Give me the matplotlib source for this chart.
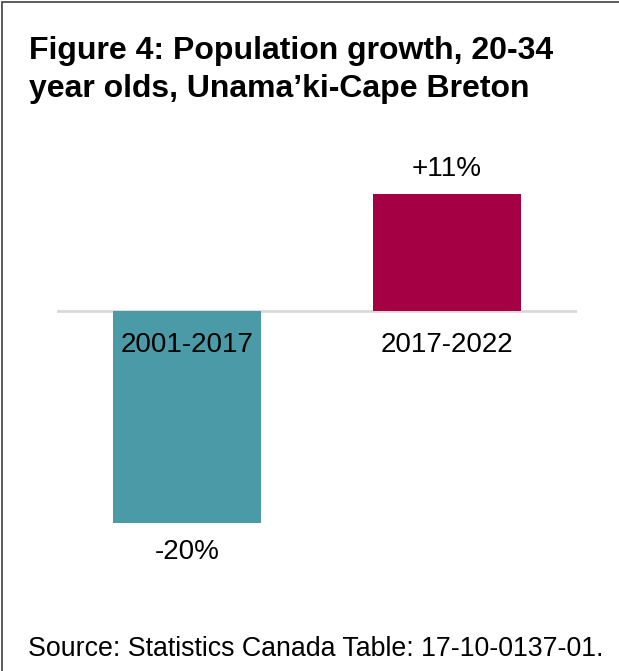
import matplotlib
matplotlib.use("Agg")
import matplotlib.pyplot as plt
from matplotlib.patches import Rectangle

categories = ["2001-2017", "2017-2022"]
values = [-20, 11]
value_labels = ["-20%", "+11%"]
colors = ["#4A9BA7", "#A50044"]

title_lines = ["Figure 4: Population growth, 20-34",
               "year olds, Unama\u2019ki-Cape Breton"]
source = "Source: Statistics Canada Table: 17-10-0137-01."

W, H = 619, 671
fig = plt.figure(figsize=(W / 100, H / 100), dpi=100)
plt.rcParams['font.family'] = ['Liberation Sans', 'DejaVu Sans']

def fx(px):
    return px / W

def fy(py):
    return 1 - py / H

# border (only left/top visible)
fig.patches.append(Rectangle((fx(2), fy(H + 20)), fx(W + 20), (H + 18) / H,
                             transform=fig.transFigure, fill=False,
                             edgecolor="#404040", linewidth=1.2))

ax = fig.add_axes([fx(57), fy(576), fx(520), (576 - 152) / H])
x = list(range(len(categories)))
bars = ax.bar(x, values, width=0.573, color=colors)
ax.set_xlim(-0.5, 1.5)
ax.set_ylim(-25, 15)
ax.axhline(0, color="#D9D9D9", linewidth=2, zorder=0.5)
ax.axis("off")

for i, (v, lab, cat) in enumerate(zip(values, value_labels, categories)):
    ax.annotate(cat, (i, 0), xytext=(0, -34), textcoords="offset pixels",
                ha="center", va="center", fontsize=20, color="black", zorder=5)
    off = 25 if v > 0 else -29
    ax.annotate(lab, (i, v), xytext=(0, off), textcoords="offset pixels",
                ha="center", va="center", fontsize=20, color="black")

for line, base in zip(title_lines, [59, 97]):
    fig.text(fx(29), fy(base), line, ha="left", va="baseline", fontsize=23,
             fontweight="bold", color="black")
fig.text(fx(28), fy(656), source, ha="left", va="baseline", fontsize=19.3,
         color="black")

fig.savefig("out.png", dpi=100)
